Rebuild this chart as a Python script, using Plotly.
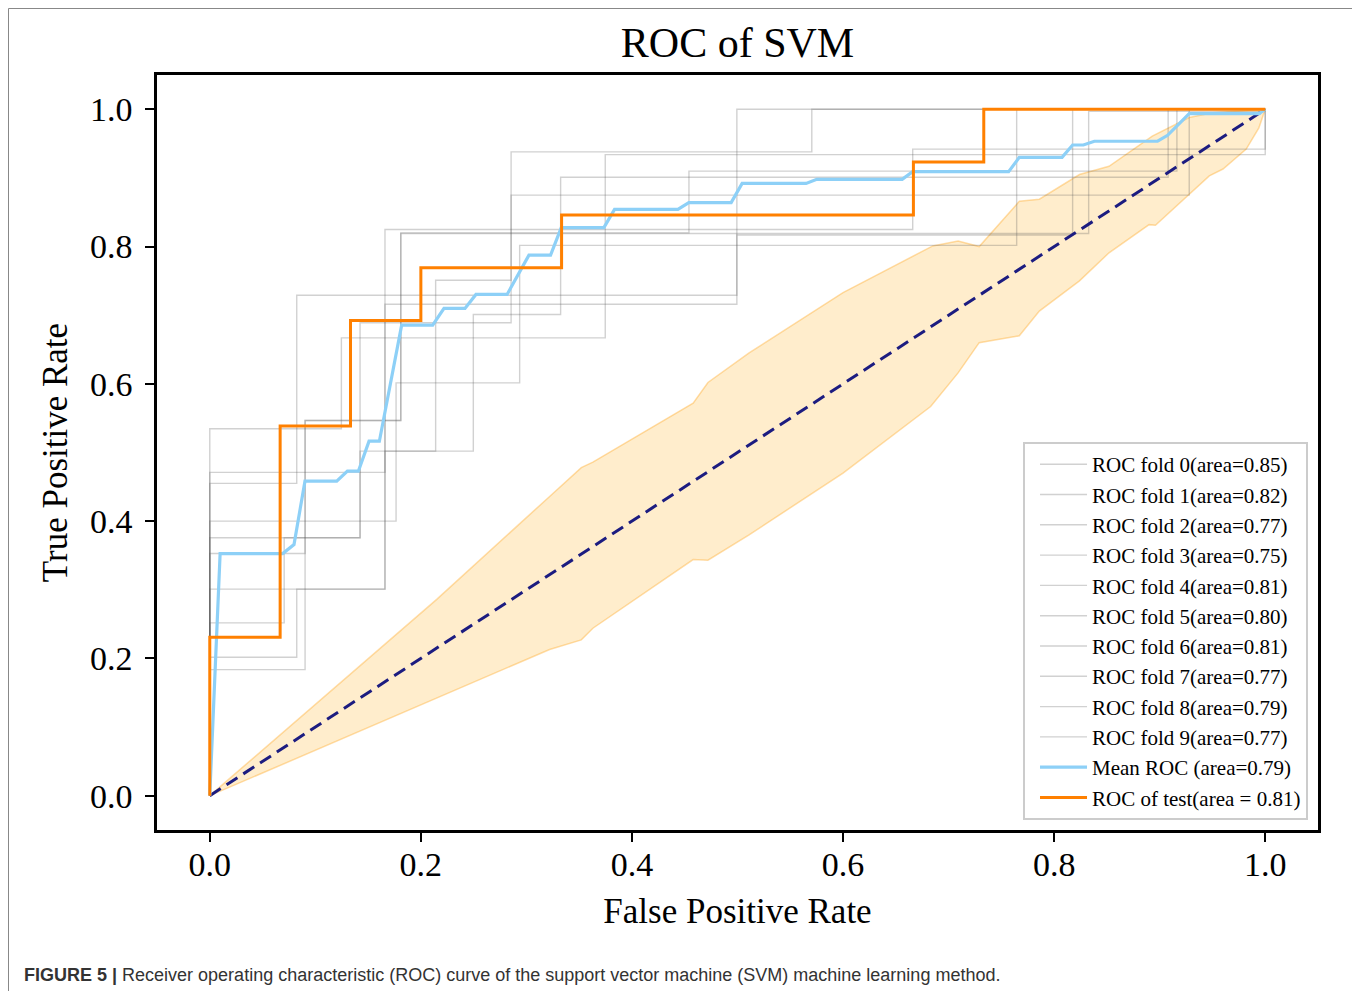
import plotly.graph_objects as go

# ---------------- data ----------------
fold_labels = ["ROC fold 0(area=0.85)", "ROC fold 1(area=0.82)", "ROC fold 2(area=0.77)",
               "ROC fold 3(area=0.75)", "ROC fold 4(area=0.81)", "ROC fold 5(area=0.80)",
               "ROC fold 6(area=0.81)", "ROC fold 7(area=0.77)", "ROC fold 8(area=0.79)",
               "ROC fold 9(area=0.77)"]

fold_fpr = [
    [0, 0, 0.0824, 0.0824, 0.4994, 0.4994, 1],
    [0, 0, 0.1247, 0.1247, 0.3747, 0.3747, 1, 1],
    [0, 0, 0.0705, 0.0705, 0.1424, 0.1424, 0.2855, 0.2855, 0.928, 0.928, 1],
    [0, 0, 0.1765, 0.1765, 0.2936, 0.2936, 0.7645, 0.7645, 1],
    [0, 0, 0.166, 0.166, 0.666, 0.666, 1, 1],
    [0, 0, 0.0903, 0.0903, 0.181, 0.181, 0.8327, 0.8327, 1],
    [0, 0, 0.1424, 0.1424, 0.214, 0.214, 0.2855, 0.2855, 0.5704, 0.5704, 1],
    [0, 0, 0.0824, 0.0824, 0.166, 0.166, 0.2497, 0.2497, 0.3324, 0.3324, 0.908, 0.908, 1],
    [0, 0, 0.0903, 0.0903, 0.181, 0.181, 0.454, 0.454, 0.9163, 0.9163, 1],
    [0, 0, 0.166, 0.166, 0.4994, 0.4994, 0.8175, 0.8175, 1],
]
fold_tpr = [
    [0, 0.455, 0.455, 0.729, 0.729, 1, 1],
    [0, 0.5345, 0.5345, 0.667, 0.667, 0.934, 0.934, 1],
    [0, 0.2517, 0.2517, 0.3757, 0.3757, 0.689, 0.689, 0.875, 0.875, 1, 1],
    [0, 0.400, 0.400, 0.6015, 0.6015, 0.8017, 0.8017, 1, 1],
    [0, 0.471, 0.471, 0.825, 0.825, 0.942, 0.942, 1],
    [0, 0.3528, 0.3528, 0.5466, 0.5466, 0.819, 0.819, 0.997, 0.997],
    [0, 0.3757, 0.3757, 0.502, 0.502, 0.751, 0.751, 0.938, 0.938, 1, 1],
    [0, 0.2016, 0.2016, 0.301, 0.301, 0.502, 0.502, 0.701, 0.701, 0.901, 0.901, 1, 1],
    [0, 0.1837, 0.1837, 0.5466, 0.5466, 0.820, 0.820, 0.910, 0.910, 1, 1],
    [0, 0.301, 0.301, 0.716, 0.716, 0.8168, 0.8168, 1, 1],
]

mean_fpr = [0, 0.0098, 0.0691, 0.0798, 0.0902, 0.1203, 0.1304, 0.1408, 0.1509, 0.1607,
            0.1818, 0.2112, 0.2219, 0.2418, 0.2522, 0.2817, 0.3024, 0.3229, 0.3330, 0.3734,
            0.3835, 0.4435, 0.4539, 0.4940, 0.5044, 0.5650, 0.5751, 0.6560, 0.6660, 0.7569,
            0.7670, 0.8075, 0.8175, 0.8277, 0.8381, 0.8980, 0.9075, 0.9280, 0.9943, 1.0]
mean_tpr = [0, 0.3528, 0.3528, 0.3659, 0.4582, 0.4582, 0.4728, 0.4728, 0.5165, 0.5165,
            0.6856, 0.6856, 0.7099, 0.7099, 0.7303, 0.7303, 0.7876, 0.7876, 0.8276, 0.8276,
            0.8542, 0.8542, 0.8640, 0.8640, 0.8921, 0.8921, 0.8980, 0.8980, 0.9092, 0.9092,
            0.9300, 0.9300, 0.9480, 0.9480, 0.9535, 0.9535, 0.9621, 0.9937, 0.9937, 1.0]

test_fpr = [0, 0, 1/15, 1/15, 2/15, 2/15, 3/15, 3/15, 5/15, 5/15, 10/15, 10/15, 11/15, 11/15, 1]
test_tpr = [0, 3/13, 3/13, 7/13, 7/13, 9/13, 9/13, 10/13, 10/13, 11/13, 11/13, 12/13, 12/13, 1, 1]

band_upper_x = [0, 0.215, 0.322, 0.352, 0.363, 0.458, 0.472, 0.511, 0.600, 0.685, 0.709,
                0.729, 0.767, 0.786, 0.824, 0.852, 0.893, 0.928, 0.950, 1.0]
band_upper_y = [0, 0.286, 0.436, 0.478, 0.486, 0.572, 0.602, 0.645, 0.733, 0.801, 0.808,
                0.800, 0.866, 0.869, 0.905, 0.917, 0.961, 0.988, 0.995, 1.0]
band_lower_x = [0, 0.322, 0.352, 0.363, 0.458, 0.472, 0.511, 0.600, 0.683, 0.709, 0.729,
                0.767, 0.786, 0.824, 0.852, 0.890, 0.896, 0.947, 0.960, 0.982, 0.994, 1.0]
band_lower_y = [0, 0.213, 0.227, 0.244, 0.344, 0.343, 0.380, 0.470, 0.567, 0.616, 0.660,
                0.670, 0.706, 0.750, 0.791, 0.832, 0.831, 0.903, 0.913, 0.942, 0.973, 1.0]

chance_x = [0, 1]
chance_y = [0, 1]

mean_label = "Mean ROC (area=0.79)"
test_label = "ROC of test(area = 0.81)"
title_text = "ROC of SVM"
caption = ("<b>FIGURE 5 |</b> Receiver operating characteristic (ROC) curve of the "
           "support vector machine (SVM) machine learning method.")

# ---------------- figure ----------------
# page body has an 8px default margin, so the figure is built 8px smaller / shifted
W, H = 1352, 983
L, R, T, B = 149, 42, 67, 161
PW, PH = W - L - R, H - T - B   # plot area size (1161 x 755)

def px_x(px):   # figure px -> paper x
    return (px - L) / PW

def px_y(py):   # figure px -> paper y
    return (H - B - py) / PH

SERIF = "Liberation Serif, Times New Roman, serif"
fig = go.Figure()

# std band
fig.add_trace(go.Scatter(
    x=band_upper_x + band_lower_x[::-1], y=band_upper_y + band_lower_y[::-1],
    fill="toself", fillcolor="rgba(255,165,0,0.2)", mode="lines",
    line=dict(color="rgba(255,170,40,0.4)", width=1.5),
    showlegend=False, hoverinfo="skip"))

for fx, fy, lab in zip(fold_fpr, fold_tpr, fold_labels):
    fig.add_trace(go.Scatter(x=fx, y=fy, mode="lines", name=lab,
                             line=dict(color="rgba(90,90,90,0.28)", width=1.4)))

fig.add_trace(go.Scatter(x=chance_x, y=chance_y, mode="lines", showlegend=False,
                         line=dict(color="#1c1c80", width=3, dash="13px,7px")))

fig.add_trace(go.Scatter(x=mean_fpr, y=mean_tpr, mode="lines", name=mean_label,
                         line=dict(color="#8dd0f7", width=3.2)))
fig.add_trace(go.Scatter(x=test_fpr, y=test_tpr, mode="lines", name=test_label,
                         line=dict(color="#ff8000", width=3)))

axis_common = dict(range=[-0.05, 1.05], tickvals=[0, 0.2, 0.4, 0.6, 0.8, 1.0],
                   tickformat=".1f", showgrid=False, zeroline=False,
                   showline=True, linecolor="black", linewidth=2.5, mirror=True,
                   ticks="outside", ticklen=9, tickwidth=2, tickcolor="black",
                   tickfont=dict(family=SERIF, size=34, color="black"))

fig.update_layout(
    width=W, height=H,
    margin=dict(l=L, r=R, t=T, b=B),
    paper_bgcolor="white", plot_bgcolor="white",
    title=dict(text=title_text, xref="paper", x=0.5, xanchor="center",
               y=1 - 34 / H, yanchor="middle",
               font=dict(family=SERIF, size=42, color="black")),
    xaxis=dict(**axis_common, title=dict(text="False Positive Rate",
                                         font=dict(family=SERIF, size=35, color="black"),
                                         standoff=17),
               ticklabelstandoff=-7),
    yaxis=dict(**axis_common, title=dict(text="True Positive Rate",
                                         font=dict(family=SERIF, size=35, color="black"),
                                         standoff=12),
               ticklabelstandoff=6),
    legend=dict(x=0.9914, y=0.0132, xanchor="right", yanchor="bottom",
                bgcolor="rgba(255,255,255,0.85)", bordercolor="#cccccc", borderwidth=2,
                font=dict(family=SERIF, size=21, color="black"), itemwidth=47,
                indentation=10),
    showlegend=True,
)

# caption
fig.add_annotation(text=caption, xref="paper", yref="paper",
                   x=px_x(14), y=px_y(967), xanchor="left", yanchor="middle",
                   showarrow=False, font=dict(family="Liberation Sans, Arial, sans-serif",
                                              size=18, color="#333333"))

# outer figure frame
fig.add_shape(type="rect", xref="paper", yref="paper",
              x0=px_x(0.5), x1=px_x(1348), y0=px_y(1000), y1=px_y(0.5),
              line=dict(color="#888888", width=1), layer="below")

fig.write_html("out.html")
